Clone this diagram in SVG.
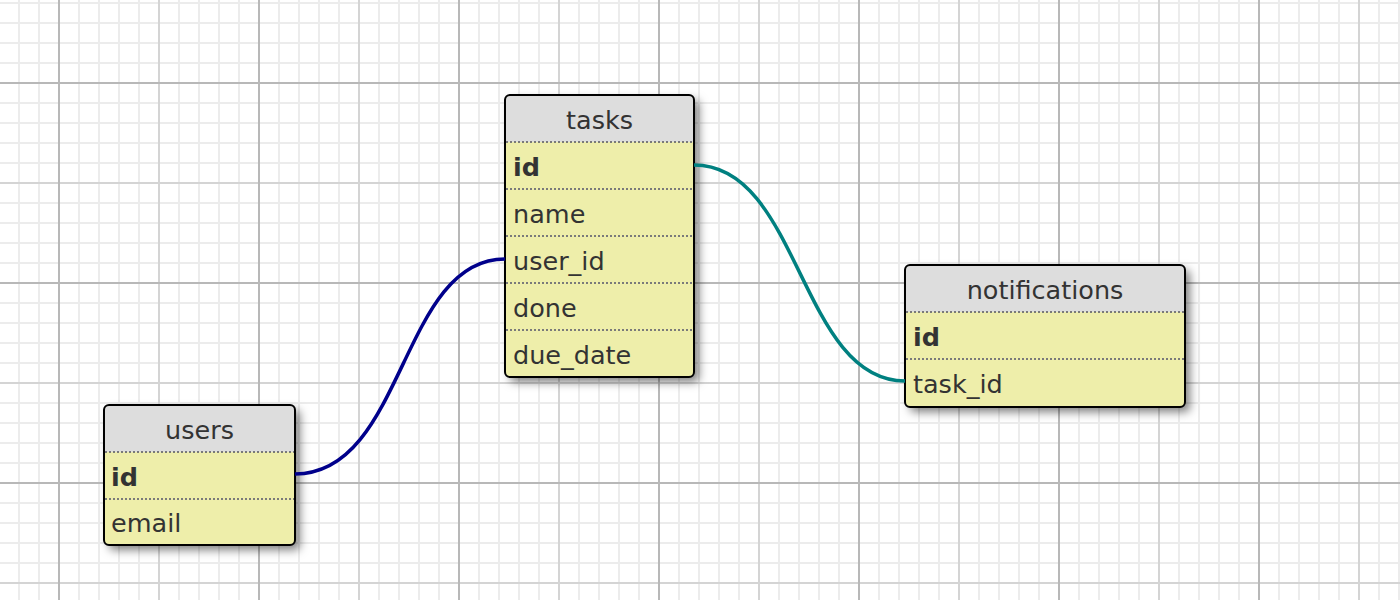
<svg xmlns="http://www.w3.org/2000/svg" width="1400" height="600" viewBox="0 0 1400 600">
<defs>
<pattern id="minor" patternUnits="userSpaceOnUse" x="9" y="13" width="20" height="20">
<path d="M10 0V20M0 10H20" stroke="#ececec" stroke-width="2" fill="none"/>
</pattern>
<pattern id="major" patternUnits="userSpaceOnUse" x="9" y="33" width="200" height="200">
<path d="M150 0V200M0 150H200" stroke="#d4d4d4" stroke-width="2" fill="none"/>
<path d="M50 0V200M0 50H200" stroke="#b8b8b8" stroke-width="2" fill="none"/>
</pattern>
<filter id="shadow" x="-20%" y="-20%" width="150%" height="150%">
<feDropShadow dx="5" dy="5" stdDeviation="5" flood-color="#000" flood-opacity="0.5"/>
</filter>
<style>
.body{fill:#eeeeaa;}
.head{fill:#dddddd;}
.frame{fill:none;stroke:#000;stroke-width:2;}
.sep{stroke:#7a7a7a;stroke-width:2;stroke-dasharray:2 2;}
.title{font-family:"DejaVu Sans",sans-serif;font-size:25.5px;fill:#333;text-anchor:middle;}
.field{font-family:"DejaVu Sans",sans-serif;font-size:25.5px;fill:#333;}
.key{font-weight:bold;}
.link{fill:none;stroke-width:3.5;}
</style>
</defs>
<rect width="1400" height="600" fill="#fff"/>
<rect width="1400" height="600" fill="url(#minor)"/>
<rect width="1400" height="600" fill="url(#major)"/>

<g id="tasks">
<rect class="body" x="505" y="95" width="189" height="282" rx="5" filter="url(#shadow)"/>
<path class="head" d="M505 142V100a5 5 0 0 1 5-5H689a5 5 0 0 1 5 5V142Z"/>
<line class="sep" x1="506" y1="142" x2="693" y2="142"/>
<line class="sep" x1="506" y1="189" x2="693" y2="189"/>
<line class="sep" x1="506" y1="236" x2="693" y2="236"/>
<line class="sep" x1="506" y1="283" x2="693" y2="283"/>
<line class="sep" x1="506" y1="330" x2="693" y2="330"/>
<rect class="frame" x="505" y="95" width="189" height="282" rx="5"/>
<text class="title" x="599.5" y="129">tasks</text>
<text class="field key" x="513" y="176">id</text>
<text class="field" x="513" y="223">name</text>
<text class="field" x="513" y="270">user_id</text>
<text class="field" x="513" y="317">done</text>
<text class="field" x="513" y="364">due_date</text>
</g>

<g id="users">
<rect class="body" x="104" y="405" width="191" height="140" rx="5" filter="url(#shadow)"/>
<path class="head" d="M104 452V410a5 5 0 0 1 5-5H290a5 5 0 0 1 5 5V452Z"/>
<line class="sep" x1="105" y1="452" x2="294" y2="452"/>
<line class="sep" x1="105" y1="499" x2="294" y2="499"/>
<rect class="frame" x="104" y="405" width="191" height="140" rx="5"/>
<text class="title" x="199.5" y="439">users</text>
<text class="field key" x="111" y="486">id</text>
<text class="field" x="111" y="532">email</text>
</g>

<g id="notifications">
<rect class="body" x="905" y="265" width="280" height="142" rx="5" filter="url(#shadow)"/>
<path class="head" d="M905 312V270a5 5 0 0 1 5-5H1180a5 5 0 0 1 5 5V312Z"/>
<line class="sep" x1="906" y1="312" x2="1184" y2="312"/>
<line class="sep" x1="906" y1="359" x2="1184" y2="359"/>
<rect class="frame" x="905" y="265" width="280" height="142" rx="5"/>
<text class="title" x="1045" y="299">notifications</text>
<text class="field key" x="913" y="346">id</text>
<text class="field" x="913" y="393">task_id</text>
</g>

<g id="connectors">
<path class="link" stroke="#00008b" d="M295 474C405 474 400 259 505 259"/>
<path class="link" stroke="#008080" d="M694 165C800 165 800 381 905 381"/>
</g>
</svg>
